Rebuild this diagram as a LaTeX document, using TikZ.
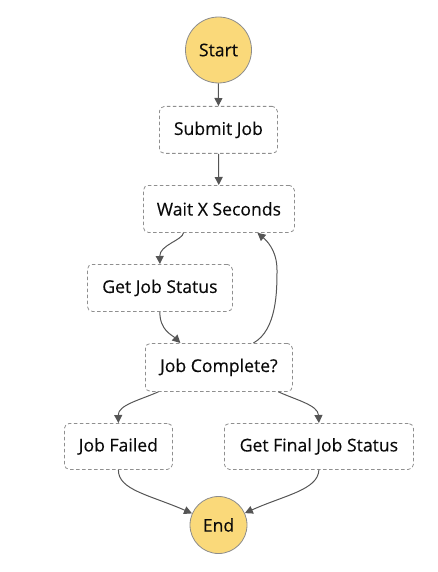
\documentclass[tikz,border=0pt]{standalone}
\usepackage{fontspec}
\setmainfont{Open Sans}
\newfontface\medfont{Open Sans}[FakeBold=0.35]
\usetikzlibrary{arrows.meta}
\definecolor{termfill}{HTML}{FAD97A}
\definecolor{termline}{HTML}{8C8C8C}
\definecolor{boxline}{HTML}{8F8F8F}
\definecolor{arrowcol}{HTML}{555555}
\definecolor{txt}{HTML}{0A0A0A}
\tikzset{
  term/.style={circle, draw=termline, fill=termfill, line width=0.8pt, inner sep=0pt, text=txt, font=\medfont\fontsize{17.6}{20}\selectfont},
  task/.style={rectangle, rounded corners=5pt, draw=boxline, dash pattern=on 3.5pt off 2.5pt, line width=0.8pt, text=txt, font=\medfont\fontsize{17.6}{20}\selectfont, inner sep=0pt, anchor=north west},
  flow/.style={draw=arrowcol, line width=1pt, -{Triangle[length=8pt,width=8pt]}}
}
\begin{document}
\begin{tikzpicture}[x=1pt,y=-1pt]
\useasboundingbox (0,0) rectangle (437,572);
\node[term, minimum size=66pt] (start) at (218.5,50) {Start};
\node[task, minimum width=118pt, minimum height=47pt] (submit) at (159,106) {Submit Job};
\node[task, minimum width=151pt, minimum height=47pt] (wait) at (143,185) {Wait X Seconds};
\node[task, minimum width=145pt, minimum height=47pt] (getstatus) at (87,264) {Get Job Status};
\node[task, minimum width=147pt, minimum height=48pt] (complete) at (145,343) {Job Complete?};
\node[task, minimum width=108pt, minimum height=46pt] (failed) at (64,423) {Job Failed};
\node[task, minimum width=189pt, minimum height=46pt] (final) at (224,423) {Get Final Job Status};
\node[term, minimum size=57pt] (end) at (218.5,525) {End};

\coordinate (w1) at ([xshift=-35.5pt]wait.south);
\coordinate (w2) at ([xshift=38.5pt]wait.south);
\coordinate (g1) at (getstatus.north);
\coordinate (g2) at (getstatus.south);
\coordinate (c1) at ([xshift=-38.5pt]complete.north);
\coordinate (c2) at ([xshift=34.5pt]complete.north);
\coordinate (c3) at ([xshift=-60.5pt]complete.south);
\coordinate (c4) at ([xshift=59.5pt]complete.south);
\coordinate (f1) at (failed.north);
\coordinate (f2) at (failed.south);
\coordinate (h1) at (final.north);
\coordinate (h2) at (final.south);

\draw[flow] (start) -- (submit);
\draw[flow] (submit) -- (wait);
\draw[flow] (w1) .. controls (183,240) and (159.5,245) .. (g1);
\draw[flow] (g2) .. controls (159.5,330) and (172,335) .. (c1);
\draw[flow] (c2) .. controls (277,330) and (277,290) .. (277,270) .. controls (277,250) and (266,240) .. (w2);
\draw[flow] (c3) .. controls (140,400) and (118,405) .. (f1);
\draw[flow] (c4) .. controls (296,400) and (318,405) .. (h1);
\draw[flow] (f2) .. controls (118,490) and (150,495) .. (end);
\draw[flow] (h2) .. controls (318,490) and (285,495) .. (end);
\end{tikzpicture}
\end{document}
